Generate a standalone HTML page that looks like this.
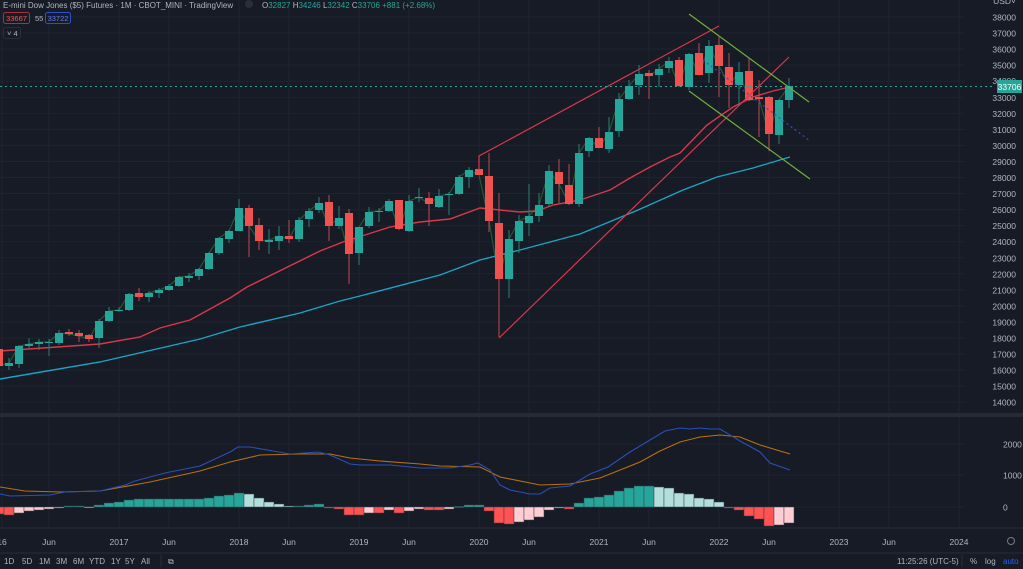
<!DOCTYPE html>
<html><head><meta charset="utf-8"><style>
html,body{margin:0;padding:0;background:#171b26;width:1023px;height:569px;overflow:hidden;font-family:"Liberation Sans",sans-serif}
svg{position:absolute;left:0;top:0}
</style></head><body>
<svg id="s" width="1023" height="569" viewBox="0 0 1023 569" xmlns="http://www.w3.org/2000/svg">
<rect width="1023" height="569" fill="#171b26"/>
<g id="grid"></g>
<g id="main"></g>
<g id="txt" font-family="Liberation Sans, sans-serif"></g>
</svg>
<script>
const NS="http://www.w3.org/2000/svg";
function el(p,t,a,txt){const e=document.createElementNS(NS,t);for(const k in a)e.setAttribute(k,a[k]);if(txt!==undefined)e.textContent=txt;p.appendChild(e);return e;}
const G=document.getElementById('grid'),M=document.getElementById('main'),T=document.getElementById('txt');
const yv=v=>17+(38000-v)/1000*16.05;
for(let v=14000;v<=38000;v+=1000){const y=yv(v);el(G,'line',{x1:0,x2:965,y1:y,y2:y,stroke:'#1f2330','stroke-width':1});
 if(v!==34000) el(T,'text',{x:1016,y:y+3.5,'text-anchor':'end','font-size':8.5,fill:'#b2b5be'},v);}
el(T,'text',{x:1016,y:4,'text-anchor':'end','font-size':8.5,fill:'#b2b5be'},'USD˅');
[[444,2000],[475,1000],[507,0]].forEach(([y,l])=>{el(G,'line',{x1:0,x2:965,y1:y,y2:y,stroke:'#1f2330'});el(T,'text',{x:1003,y:y+3.5,'font-size':8.5,fill:'#b2b5be'},l);});
const xs=[[2,'16'],[49,'Jun'],[119,'2017'],[169,'Jun'],[239,'2018'],[289,'Jun'],[359,'2019'],[409,'Jun'],[479,'2020'],[529,'Jun'],[599,'2021'],[649,'Jun'],[719,'2022'],[769,'Jun'],[839,'2023'],[889,'Jun'],[959,'2024']];
xs.forEach(([x,l])=>{el(G,'line',{x1:x,x2:x,y1:0,y2:528,stroke:'#1f2330'});el(T,'text',{x:x,y:545,'text-anchor':'middle','font-size':8.5,fill:'#b2b5be'},l);});
el(G,'rect',{x:0,y:413,width:1023,height:4,fill:'#262a36'});
el(G,'line',{x1:0,x2:1023,y1:528,y2:528,stroke:'#2a2e39'});
el(G,'line',{x1:0,x2:1023,y1:553,y2:553,stroke:'#2a2e39'});
const C=[[349,366,345,370],[366,363,358,370],[364,346,345,368],[346,344,338,348],[344,342,339,350],[343,342,339,356],[343,333,330,345],[332,334,329,336],[333,336,330,342],[335,339,334,342],[338,321,319,348],[321,311,307,322],[311,310,307,312],[310,294,293,311],[293,297,288,301],[297,293,291,302],[293,290,288,298],[290,286,284,291],[286,277,276,287],[278,276,273,282],[276,269,268,280],[269,253,252,270],[253,238,237,255],[239,231,230,243],[231,208,199,231],[208,226,205,257],[225,241,218,250],[242,240,229,254],[241,236,226,250],[236,239,220,243],[239,220,217,242],[219,211,208,227],[210,203,197,213],[202,226,195,241],[226,218,206,229],[213,254,209,284],[253,227,227,265],[226,212,207,228],[212,211,208,222],[211,201,199,212],[200,229,200,230],[231,201,195,232],[198,197,188,202],[198,204,192,226],[207,196,189,208],[195,194,192,215],[194,177,175,195],[177,170,167,188],[169,175,156,175],[176,221,153,232],[223,279,193,337],[279,239,230,298],[241,221,215,253],[223,216,184,236],[216,205,193,222],[204,171,165,207],[172,184,159,203],[185,204,164,205],[204,153,144,207],[151,138,137,157],[138,148,127,148],[149,132,117,153],[131,99,93,137],[99,86,80,100],[85,74,65,95],[73,76,70,99],[75,69,64,87],[68,61,57,73],[60,86,57,87],[87,54,53,90],[53,75,43,75],[73,46,40,83],[45,66,37,97],[67,85,53,108],[85,72,62,105],[71,100,58,101],[97,99,80,137],[97,134,96,151],[135,100,99,144],[100,86,78,108]];
const cx=k=>10*k-1;
el(M,'polyline',{points:C.map((c,k)=>cx(k)+','+c[1]).join(' '),fill:'none',stroke:'#1e5a34','stroke-width':1.2});
el(M,'polyline',{points:'0,379 100,362 200,339 240,327 300,313 340,301 360,296 440,275 480,260 520,250 580,234 638,210 683,190 717,177 753,168 790,157',fill:'none',stroke:'#1ba4c4','stroke-width':1.4});
el(M,'polyline',{points:'0,351 100,344 140,337 160,328 190,320 230,298 247,287 320,251 343,242 390,227 420,222 450,219 480,208 500,210 520,212 537,211 553,205 580,200 610,190 630,178 650,167 670,157 680,153 707,125 733,107 753,97 773,91 790,87',fill:'none',stroke:'#d9384a','stroke-width':1.4});
C.forEach((c,k)=>{const x=cx(k),up=c[1]<c[0],col=up?'#26a69a':'#ef5350';
 el(M,'line',{x1:x,x2:x,y1:c[2],y2:c[3],stroke:up?'#2b7f78':'#b84b4f','stroke-width':1});
 const t=Math.min(c[0],c[1]),h=Math.max(1,Math.abs(c[0]-c[1]));
 el(M,'rect',{x:x-4,y:t,width:8,height:h,fill:col});});
el(M,'polyline',{points:'479,170 479,156 719,26',fill:'none',stroke:'#d9384a','stroke-width':1.2});
el(M,'line',{x1:499,y1:338,x2:789,y2:57,stroke:'#d9384a','stroke-width':1.2});
el(M,'line',{x1:689,y1:14,x2:809,y2:102,stroke:'#6fae3a','stroke-width':1.2});
el(M,'line',{x1:689,y1:91,x2:810,y2:179,stroke:'#6fae3a','stroke-width':1.2});
el(M,'line',{x1:703,y1:60,x2:810,y2:141,stroke:'#2a4fd0','stroke-width':1.2,'stroke-dasharray':'2,3'});
el(M,'line',{x1:0,x2:995,y1:86.5,y2:86.5,stroke:'#26a69a','stroke-width':1,'stroke-dasharray':'2,3'});
el(T,'text',{x:1016,y:84,'text-anchor':'end','font-size':8.5,fill:'#b2b5be'},'34000');
el(T,'rect',{x:997,y:80,width:25,height:13,fill:'#26a69a'});
el(T,'text',{x:1009.5,y:90,'text-anchor':'middle','font-size':8.5,fill:'#fff'},'33706');
const H=[-7,-8,-6,-4,-3,-2,-1,1,1,0.3,2,4,5,7,8,8,8,8,8,8,8,9,11,12,14,13,9,5,3,1,1,2,3,-1,-2,-8,-8,-6,-6,-3,-6,-4,-2,-3,-3,-2,0.5,2,2,-4,-16,-17,-15,-13,-10,-3,-1,-2,4,9,10,12,16,19,21,21,20,19,14,13,9,8,5,-1,-3,-9,-12,-19,-18,-16];
H.forEach((v,k)=>{const prev=k?H[k-1]:v;let col;
 if(v>=0)col=v>=prev?'#26a69a':'#b2dfdb';else col=v<=prev?'#ff5252':'#ffcdd2';
 const y=v>=0?507-v:507,h=Math.max(1,Math.abs(v));
 el(M,'rect',{x:10*k-6,y:y,width:10,height:h,fill:col,stroke:'#3a3f4b','stroke-width':0.5});});
el(M,'polyline',{points:'0,487 25,491 60,492 100,491 150,482 200,471 230,462 260,455 300,454 330,454 350,458 380,461 420,464 440,466 480,467 500,477 540,485 570,484 600,478 620,470 640,462 660,451 680,442 700,437 720,435 740,437 760,445 790,454',fill:'none',stroke:'#b8700f','stroke-width':1.1});
el(M,'polyline',{points:'0,494 10,496 50,495 65,492 100,491 125,485 135,481 165,473 200,466 230,452 238,447 250,447 290,454 318,452 330,455 350,464 360,465 390,465 420,468 450,468 470,465 478,463 490,470 500,485 510,490 530,494 540,494 550,488 570,486 590,474 608,467 630,452 650,440 665,431 680,428 690,429 700,428 710,429 720,429 740,441 760,452 770,463 790,470',fill:'none',stroke:'#2a4fb8','stroke-width':1.1});
el(T,'text',{x:3,y:8,'font-size':8,fill:'#b2b5be'},'E-mini Dow Jones ($5) Futures · 1M · CBOT_MINI · TradingView');
el(T,'circle',{cx:249,cy:4,r:4,fill:'#2a2e39'});
const o=el(T,'text',{x:262,y:8,'font-size':8,fill:'#b2b5be'});
[['O',''],['32827','#26a69a'],[' H',''],['34246','#26a69a'],[' L',''],['32342','#26a69a'],[' C',''],['33706','#26a69a'],[' +881 (+2.68%)','#26a69a']].forEach(([t,c])=>{el(o,'tspan',c?{fill:c}:{},t);});
el(T,'rect',{x:3.5,y:12.5,width:26,height:11,rx:2,fill:'none',stroke:'#a8303c'});
el(T,'text',{x:16.5,y:21,'text-anchor':'middle','font-size':7.5,fill:'#ef5350'},'33667');
el(T,'text',{x:35,y:21,'font-size':7.5,fill:'#b2b5be'},'55');
el(T,'rect',{x:45.5,y:12.5,width:25,height:11,rx:2,fill:'none',stroke:'#2a4fd0'});
el(T,'text',{x:58,y:21,'text-anchor':'middle','font-size':7.5,fill:'#5b7cf0'},'33722');
el(T,'rect',{x:3.5,y:27.5,width:17,height:11,rx:2,fill:'none',stroke:'#2a2e39'});
el(T,'text',{x:7,y:36,'font-size':7.5,fill:'#b2b5be'},'˅ 4');
const tb=[['1D',4],['5D',22],['1M',39],['3M',56],['6M',73],['YTD',89],['1Y',111],['5Y',125],['All',141]];
tb.forEach(([t,x])=>el(T,'text',{x:x,y:564,'font-size':8,fill:'#b2b5be'},t));
el(T,'line',{x1:161,x2:161,y1:555,y2:567,stroke:'#2a2e39'});
el(T,'text',{x:168,y:564,'font-size':8,fill:'#b2b5be'},'⧉');
el(T,'text',{x:897,y:564,'font-size':8,fill:'#b2b5be'},'11:25:26 (UTC-5)');
el(T,'line',{x1:962,x2:962,y1:555,y2:567,stroke:'#2a2e39'});
el(T,'text',{x:970,y:564,'font-size':8,fill:'#b2b5be'},'%');
el(T,'text',{x:985,y:564,'font-size':8,fill:'#b2b5be'},'log');
el(T,'text',{x:1003,y:564,'font-size':8,fill:'#2962ff'},'auto');
el(T,'circle',{cx:1011,cy:541,r:3.5,fill:'none',stroke:'#787b86'});
</script>
</body></html>
